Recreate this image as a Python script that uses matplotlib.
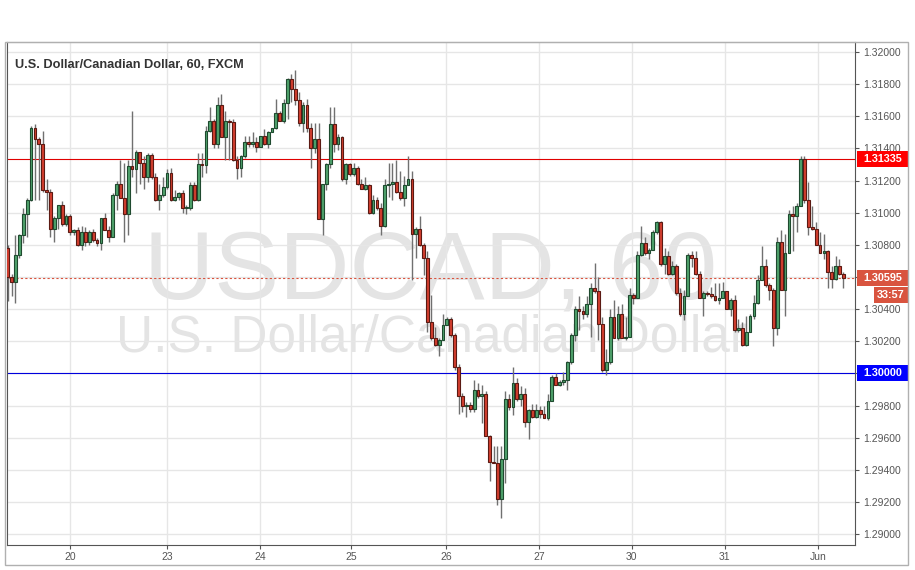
import numpy as np
import matplotlib
matplotlib.use('Agg')
import matplotlib.pyplot as plt
from matplotlib import transforms
from matplotlib.patches import Rectangle
from matplotlib.ticker import FuncFormatter

plt.rcParams['font.family'] = ['Liberation Sans', 'DejaVu Sans']

# USD/CAD hourly candles (open of each bar = previous close)
first_open = 1.3078
close = [1.3060, 1.3057, 1.3074, 1.3086, 1.3099, 1.3108, 1.3153, 1.3146, 1.3143, 1.3114,
         1.3113, 1.3090, 1.3097, 1.3105, 1.3093, 1.3098, 1.3088, 1.3089, 1.3080, 1.3088,
         1.3082, 1.3088, 1.3083, 1.3081, 1.3097, 1.3089, 1.3085, 1.3111, 1.3118, 1.3109,
         1.3099, 1.3129, 1.3127, 1.3138, 1.3131, 1.3122, 1.3136, 1.3122, 1.3108, 1.3111,
         1.3116, 1.3125, 1.3108, 1.3110, 1.3112, 1.3103, 1.3103, 1.3117, 1.3108, 1.3130,
         1.31295, 1.3151, 1.3157, 1.3143, 1.3167, 1.3147, 1.3157, 1.31565, 1.3133, 1.3128,
         1.3135, 1.3144, 1.31425, 1.3144, 1.3141, 1.3148, 1.3143, 1.3150, 1.3153, 1.3162,
         1.3157, 1.3168, 1.3183, 1.3177, 1.3170, 1.3156, 1.3167, 1.3153, 1.3140, 1.3146,
         1.3096, 1.3118, 1.3130, 1.3155, 1.3143, 1.3147, 1.3121, 1.3130, 1.3124, 1.3128,
         1.3118, 1.3115, 1.3117, 1.3100, 1.3108, 1.3103, 1.3092, 1.3117, 1.3118, 1.3119,
         1.3113, 1.3109, 1.3117, 1.3121, 1.3087, 1.3090, 1.3080, 1.3072, 1.3032, 1.3022,
         1.3018, 1.3021, 1.3030, 1.3034, 1.3024, 1.3004, 1.2986, 1.2980, 1.29805, 1.2978,
         1.2990, 1.2986, 1.2987, 1.2961, 1.2945, 1.2944, 1.2922, 1.2947, 1.2984, 1.2979,
         1.2994, 1.2984, 1.2987, 1.2970, 1.2977, 1.2973, 1.2977, 1.2975, 1.2972, 1.2983,
         1.2998, 1.2993, 1.2995, 1.2996, 1.3007, 1.3024, 1.3040, 1.3039, 1.3037, 1.3043,
         1.3053, 1.3051, 1.3031, 1.3002, 1.3007, 1.3035, 1.3022, 1.3037, 1.3022, 1.3023,
         1.3049, 1.3047, 1.3074, 1.3081, 1.3075, 1.3077, 1.3088, 1.3094, 1.3068, 1.3073,
         1.3062, 1.3067, 1.3050, 1.3037, 1.3048, 1.3074, 1.3072, 1.3062, 1.3047, 1.3050,
         1.30495, 1.3048, 1.3046, 1.3047, 1.3051, 1.3040, 1.3046, 1.3027, 1.3028, 1.3018,
         1.3026, 1.3036, 1.3044, 1.3058, 1.3067, 1.3055, 1.3052, 1.3028, 1.3082, 1.3052,
         1.3075, 1.3099, 1.3098, 1.3104, 1.31335, 1.3108, 1.3091, 1.3090, 1.3080, 1.3075,
         1.3076, 1.3063, 1.3059, 1.3067, 1.3062, 1.30595]
high = [1.3080, 1.3062, 1.3086, 1.3087, 1.3103, 1.3109, 1.3154, 1.3155, 1.3147, 1.3151,
        1.3121, 1.3115, 1.3098, 1.3105, 1.3107, 1.3099, 1.3099, 1.3090, 1.3091, 1.3092,
        1.3091, 1.3089, 1.3090, 1.3084, 1.3097, 1.3100, 1.3092, 1.3112, 1.3120, 1.3133,
        1.3131, 1.3133, 1.3163, 1.3139, 1.3138, 1.3135, 1.3137, 1.3137, 1.3125, 1.3118,
        1.3122, 1.3127, 1.3128, 1.3114, 1.3113, 1.3114, 1.3105, 1.3119, 1.3119, 1.3137,
        1.3137, 1.3154, 1.3166, 1.3158, 1.3172, 1.3174, 1.3163, 1.3158, 1.3158, 1.3135,
        1.3136, 1.3148, 1.3148, 1.3150, 1.3147, 1.3148, 1.3152, 1.3151, 1.3153, 1.3171,
        1.3163, 1.3171, 1.3184, 1.3186, 1.3189, 1.3175, 1.3169, 1.3171, 1.3156, 1.3156,
        1.3156, 1.3118, 1.3131, 1.3166, 1.3166, 1.3149, 1.3148, 1.3131, 1.3131, 1.3131,
        1.3129, 1.3121, 1.3122, 1.3118, 1.3111, 1.3110, 1.3106, 1.3121, 1.3131, 1.3131,
        1.3133, 1.3126, 1.3123, 1.3135, 1.3126, 1.3091, 1.3098, 1.3081, 1.3076, 1.3049,
        1.3029, 1.3022, 1.3037, 1.3035, 1.3035, 1.3025, 1.3006, 1.2988, 1.2982, 1.2982,
        1.2996, 1.2994, 1.2993, 1.2989, 1.2962, 1.2955, 1.2955, 1.2955, 1.2989, 1.2987,
        1.3004, 1.2997, 1.2992, 1.2991, 1.2978, 1.2981, 1.2981, 1.2980, 1.2980, 1.2987,
        1.2999, 1.3000, 1.2996, 1.3001, 1.3008, 1.3025, 1.3042, 1.3048, 1.3042, 1.3048,
        1.3056, 1.3069, 1.3060, 1.3035, 1.3015, 1.3040, 1.3046, 1.3042, 1.3043, 1.3035,
        1.3053, 1.3050, 1.3076, 1.3092, 1.3085, 1.3078, 1.3089, 1.3095, 1.3095, 1.3078,
        1.3076, 1.3070, 1.3068, 1.3053, 1.3052, 1.3075, 1.3076, 1.3076, 1.3064, 1.3051,
        1.3051, 1.3054, 1.3056, 1.3056, 1.3057, 1.3051, 1.3047, 1.3049, 1.3034, 1.3032,
        1.3036, 1.3037, 1.3049, 1.3061, 1.3079, 1.3071, 1.3056, 1.3053, 1.3085, 1.3089,
        1.3087, 1.3102, 1.3104, 1.3106, 1.3135, 1.3135, 1.3119, 1.3104, 1.3094, 1.3088,
        1.3087, 1.3077, 1.3067, 1.3073, 1.3071, 1.3063]
low = [1.3045, 1.3048, 1.3044, 1.3072, 1.3081, 1.3085, 1.3107, 1.3108, 1.3108, 1.3113,
       1.3102, 1.3085, 1.3082, 1.3090, 1.3092, 1.3092, 1.3086, 1.3086, 1.3079, 1.3077,
       1.3079, 1.3080, 1.3082, 1.3079, 1.3077, 1.3089, 1.3082, 1.3085, 1.3102, 1.3109,
       1.3082, 1.3086, 1.3122, 1.3112, 1.3118, 1.3115, 1.3119, 1.3121, 1.3107, 1.3102,
       1.3110, 1.3115, 1.3107, 1.3107, 1.3108, 1.3100, 1.3099, 1.3102, 1.3107, 1.3107,
       1.3122, 1.3125, 1.3150, 1.3140, 1.3140, 1.3147, 1.3133, 1.3133, 1.3132, 1.3121,
       1.3122, 1.3134, 1.3141, 1.3141, 1.3138, 1.3141, 1.3142, 1.3140, 1.3150, 1.3152,
       1.3157, 1.3156, 1.3158, 1.3169, 1.3167, 1.3154, 1.3150, 1.3150, 1.3128, 1.3137,
       1.3096, 1.3086, 1.3114, 1.3128, 1.3138, 1.3139, 1.3120, 1.3118, 1.3123, 1.3123,
       1.3117, 1.3115, 1.3114, 1.3099, 1.3099, 1.3102, 1.3086, 1.3091, 1.3110, 1.3108,
       1.3112, 1.3108, 1.3104, 1.3117, 1.3058, 1.3072, 1.3079, 1.3061, 1.3026, 1.3021,
       1.3017, 1.3011, 1.3021, 1.3030, 1.3023, 1.3002, 1.2975, 1.2976, 1.2973, 1.2976,
       1.2976, 1.2985, 1.2969, 1.2961, 1.2933, 1.2944, 1.2918, 1.2910, 1.2932, 1.2977,
       1.2974, 1.2983, 1.2980, 1.2967, 1.2959, 1.2972, 1.2972, 1.2972, 1.2972, 1.2971,
       1.2983, 1.2993, 1.2992, 1.2993, 1.2990, 1.3006, 1.3020, 1.3027, 1.3034, 1.3035,
       1.3023, 1.3050, 1.3021, 1.3001, 1.2999, 1.3006, 1.3022, 1.3021, 1.3022, 1.3021,
       1.3023, 1.3043, 1.3047, 1.3073, 1.3074, 1.3071, 1.3077, 1.3087, 1.3067, 1.3062,
       1.3061, 1.3061, 1.3049, 1.3036, 1.3033, 1.3048, 1.3066, 1.3061, 1.3047, 1.3036,
       1.3048, 1.3047, 1.3045, 1.3043, 1.3047, 1.3040, 1.3036, 1.3026, 1.3026, 1.3017,
       1.3017, 1.3026, 1.3034, 1.3043, 1.3058, 1.3054, 1.3046, 1.3017, 1.3024, 1.3052,
       1.3036, 1.3075, 1.3076, 1.3088, 1.3104, 1.3106, 1.3086, 1.3089, 1.3080, 1.3075,
       1.3071, 1.3053, 1.3053, 1.3058, 1.3061, 1.3053]

day_pos = [16.0, 41.0, 64.9, 88.3, 112.8, 136.7, 160.6, 184.5, 208.5]
day_labels = ['20', '23', '24', '25', '26', '27', '30', '31', 'Jun']

resistance = 1.31335
support = 1.30000
last_price = 1.30595
countdown = '33:57'

c = np.array(close)
o = np.r_[first_open, c[:-1]]
h = np.maximum(np.array(high), np.maximum(o, c))
l = np.minimum(np.array(low), np.minimum(o, c))
x = np.arange(len(c))
up = c >= o

W, H = 915, 570
fig = plt.figure(figsize=(W / 100, H / 100), dpi=100)
fig.patch.set_facecolor('white')
ax = fig.add_axes([7 / W, 25 / H, 848 / W, 503 / H])

# outer frame of the widget
fig.patches.append(Rectangle((5 / W, 5 / H), 903 / W, 523 / H, transform=fig.transFigure,
                             fill=False, edgecolor='#b0b0b0', lw=1))

ax.set_xlim(-0.18, 218.0)
ax.set_ylim(1.28933, 1.32062)
px = (1.32062 - 1.28933) / 503   # price per pixel


def ylab(v, p):
    # labels hidden under the price boxes are not drawn
    if abs(v - support) < 0.0003 or abs(v - last_price) < 0.0003:
        return ''
    return f'{v:.5f}'


ax.set_xticks(day_pos)
ax.set_xticklabels(day_labels)
ax.set_yticks(np.arange(1.290, 1.32001, 0.002))
ax.yaxis.set_major_formatter(FuncFormatter(ylab))
ax.yaxis.tick_right()
ax.tick_params(axis='both', direction='out', length=3, width=0.8, colors='#555555',
               labelsize=7.5, pad=2)
ax.tick_params(axis='y', pad=3)
ax.grid(True, color='#e6e6e6', lw=1, zorder=0)
ax.set_axisbelow(True)
for side in ['left', 'right', 'bottom']:
    ax.spines[side].set_color('#555555')
ax.spines['top'].set_color('#b0b0b0')

# watermark
ax.text(0.5, 0.49, 'USDCAD, 60', transform=ax.transAxes, ha='center', va='baseline',
        fontsize=70, color='#e4e4e4', zorder=0.5)
ax.text(0.5, 0.385, 'U.S. Dollar/Canadian Dollar', transform=ax.transAxes, ha='center',
        va='baseline', fontsize=37, color='#e4e4e4', zorder=0.5)

ax.text(0.0095, 0.966, 'U.S. Dollar/Canadian Dollar, 60, FXCM', transform=ax.transAxes,
        ha='left', va='top', fontsize=9.2, fontweight='bold', color='#333333')

# levels
ax.axhline(resistance, color='#e00000', lw=0.8, zorder=1.5)
ax.axhline(support, color='#0000dd', lw=0.8, zorder=1.5)
ax.axhline(last_price, color='#d9543f', lw=0.8, ls=(0, (2, 2)), zorder=1.5)

# candles
ax.vlines(x, l, h, color='#707070', lw=1, zorder=2)
body = np.maximum(np.abs(c - o), 0.00004)
ax.bar(x[up], body[up], bottom=np.minimum(o, c)[up], width=0.72, color='#4fa26c',
       edgecolor='#1f4a2f', lw=0.8, zorder=3)
ax.bar(x[~up], body[~up], bottom=np.minimum(o, c)[~up], width=0.72, color='#d33f2f',
       edgecolor='#5b1a13', lw=0.8, zorder=3)

# price labels on the right axis
tr = transforms.blended_transform_factory(fig.transFigure, ax.transData)


def price_box(x0, x1, yc, text, fc):
    ax.add_patch(Rectangle((x0 / W, yc - 8 * px), (x1 - x0) / W, 16 * px, transform=tr,
                           facecolor=fc, edgecolor='none', clip_on=False, zorder=5))
    ax.text((x0 + x1) / 2 / W, yc, text, transform=tr, ha='center', va='center',
            fontsize=7.8, fontweight='bold', color='white', zorder=6)


price_box(857, 908, resistance, f'{resistance:.5f}', '#ff0000')
price_box(857, 908, support, f'{support:.5f}', '#0000ff')
price_box(857, 908, last_price, f'{last_price:.5f}', '#d9543f')
price_box(874, 908, last_price - 17.5 * px, countdown, '#d9543f')

fig.savefig('out.png', dpi=100)
